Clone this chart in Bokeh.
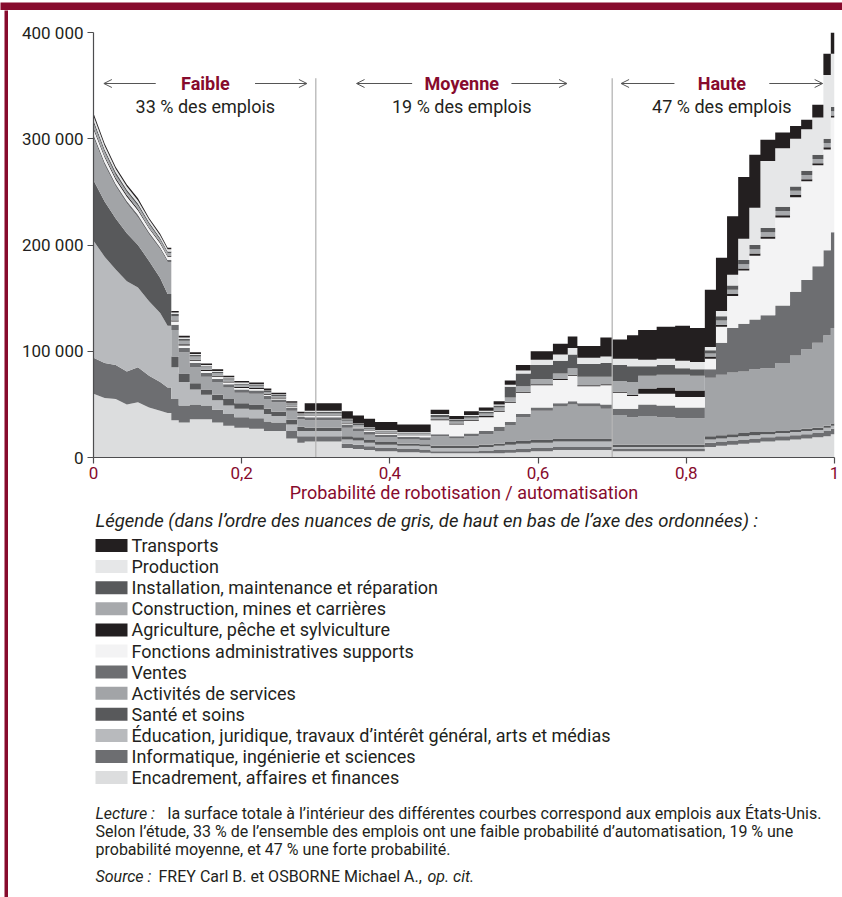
from bokeh.plotting import figure
from bokeh.layouts import column, row
from bokeh.models import ColumnDataSource, Range1d, FixedTicker, Label, Arrow, OpenHead
from bokeh.core.properties import value
from bokeh.embed import file_html
from bokeh.resources import INLINE

# ---------------- data (jobs, thousands) ----------------
proba = [0.0, 0.015, 0.03, 0.045, 0.06, 0.075, 0.09, 0.1, 0.105, 0.115,
         0.13, 0.145, 0.16, 0.175, 0.19, 0.21, 0.23, 0.24, 0.26, 0.275,
         0.285, 0.335, 0.35, 0.365, 0.38, 0.41, 0.44, 0.455, 0.48, 0.5,
         0.52, 0.54, 0.555, 0.57, 0.59, 0.62, 0.64, 0.653, 0.684, 0.7,
         0.72, 0.735, 0.76, 0.785, 0.805, 0.825, 0.84, 0.855, 0.87, 0.885,
         0.9, 0.92, 0.94, 0.955, 0.97, 0.985, 0.995, 1.0]

encadrement = [60, 56, 55, 50, 52, 47, 44, 42, 35, 33,
               36, 36, 33, 30, 28, 27, 25, 25, 18, 14,
               15, 9, 8, 7, 6, 5, 4.5, 4, 4, 4,
               4, 4, 4.5, 5, 6, 7, 7, 7, 7, 6,
               6, 6, 6, 6, 6, 10, 11, 12, 13, 14,
               15, 16, 17, 18, 19, 20, 22, 22]
informatique = [34, 33, 32, 31, 33, 30, 27, 24, 20, 16,
                14, 13, 12, 11, 10, 10, 9, 8, 7, 6,
                5, 4, 4, 3.5, 3, 3, 3, 2, 2, 2,
                2.5, 3, 3, 3, 3, 3, 3, 3, 3, 2,
                2, 2, 2, 2, 2, 4, 4, 4, 4, 4,
                4, 4, 4, 4, 4, 5, 5, 5]
education = [110, 100, 90, 85, 75, 70, 65, 58, 30, 22,
             14, 10, 9, 8, 8, 8, 7, 6, 6, 5,
             5, 4, 4, 3.5, 3, 3, 3, 3, 3, 3,
             3.5, 4, 4.5, 5, 5, 5, 5, 5, 5, 2,
             2, 2, 2, 2, 2, 3, 3, 3, 3, 3,
             3, 3, 3, 3, 3, 3, 3, 3]
sante = [57, 52, 48, 45, 40, 38, 33, 30, 10, 8,
         6, 5, 5, 6, 5, 5, 5, 4, 4.5, 4,
         3, 3, 3, 2.5, 2.5, 2, 2, 2, 2, 2,
         2, 2, 2.5, 3, 3, 3, 3, 3, 3, 2,
         2, 2, 2, 2, 2, 3, 3, 3, 3, 3,
         2, 2, 2, 2, 2, 2, 2, 2]
services = [40, 34, 30, 28, 26, 25, 27, 30, 25, 20,
            15, 12, 12, 11, 10, 10, 9, 9, 8.5, 7,
            7, 8, 6, 5, 4.5, 4, 4, 9, 7, 9,
            10, 12, 16, 22, 27, 30, 32, 30, 28, 28,
            26, 27, 26, 25, 25, 55, 57, 58, 58, 59,
            60, 64, 70, 75, 80, 85, 90, 90]
ventes = [3, 3, 2.5, 2.5, 2.5, 2, 2, 2, 5, 4,
          4, 3.5, 3, 3, 3, 3, 3, 2.5, 3, 2.5,
          3, 3, 2.5, 2.5, 2.5, 2.5, 2.5, 2, 2, 2.5,
          3, 4, 3, 3, 3, 3, 3, 3, 4, 6,
          8, 11, 11, 10, 10, 8, 30, 42, 45, 47,
          50, 54, 60, 65, 72, 80, 90, 90]
administratif = [5, 4.5, 4, 4, 4, 3.5, 3.5, 3, 3, 2.5,
                 2, 2, 2, 1.5, 1.5, 1.5, 1, 1, 1, 0.5,
                 1, 1, 1, 1, 1, 1.5, 2, 13, 11, 12,
                 13, 14, 18, 20, 21, 22, 24, 16, 18, 15,
                 12, 10, 11, 10, 10, 10, 15, 30, 50, 60,
                 72, 83, 89, 93, 95, 95, 108, 108]
agriculture = [1.5, 1.5, 1.5, 1.5, 1.5, 1, 1, 1, 1, 1,
               1, 1, 1, 1, 1, 1, 1, 1, 0.5, 0.5,
               0.5, 0.5, 0.5, 0.5, 0.5, 0.5, 0.5, 1, 1, 1,
               1, 1, 1, 1, 1, 1, 1, 1, 1, 1,
               1, 5, 6, 6, 6, 2, 2, 2, 2, 2,
               2, 2, 2, 2, 2, 2, 2, 2]
construction = [4, 3.5, 3, 3, 3, 3, 2.5, 2.5, 4, 3.5,
                3, 2.5, 2.5, 2, 2, 2, 1.5, 1.5, 1.5, 1,
                2, 2, 1.5, 1.5, 1.5, 1, 1, 2, 2, 2,
                2.5, 3, 4, 5, 5, 5, 6, 8, 7, 10,
                12, 12, 12, 15, 14, 3, 4, 4, 4, 4,
                4, 4, 4, 4, 4, 4, 4, 4]
installation = [3, 2.5, 2.5, 2, 2, 2, 1.5, 1.5, 2, 1.5,
                1.5, 1, 1, 1, 1, 1, 1, 1, 1, 0.5,
                1.5, 1.5, 1, 1, 1, 1, 1, 2, 1.5, 1.5,
                1.5, 2, 10, 12, 13, 12, 13, 12, 13, 15,
                15, 9, 9, 6, 6, 3, 4, 4, 4, 4,
                4, 4, 4, 4, 4, 4, 4, 4]
production = [4, 3.5, 3, 3, 3, 2.5, 2.5, 2, 1.5, 1.5,
              1, 1, 1, 1, 1, 0.5, 0.5, 0.5, 0.5, 0.5,
              1, 0.5, 0.5, 0.5, 0.5, 0.5, 0.5, 1, 0.5, 1,
              1, 1, 2, 3, 5, 6, 6, 6, 6, 6,
              7, 6, 6, 7, 7, 3, 5, 10, 20, 35,
              63, 55, 45, 39, 35, 60, 50, 50]
transports = [2.5, 2, 2, 2, 2, 1.5, 1.5, 1.5, 1.5, 1.5,
              1.5, 1.5, 1.5, 1.5, 1.5, 1.5, 2, 1.5, 1.5, 1.5,
              7, 7, 7.5, 8, 7.5, 7, 7, 4, 3, 3.5,
              3, 3, 4, 5, 8, 10, 11, 11, 18, 18,
              22, 28, 30, 33, 32, 54, 50, 55, 58, 50,
              20, 15, 12, 9, 12, 20, 20, 20]

# legend order: top of the stack first
legend_labels = [
    "Transports",
    "Production",
    "Installation, maintenance et réparation",
    "Construction, mines et carrières",
    "Agriculture, pêche et sylviculture",
    "Fonctions administratives supports",
    "Ventes",
    "Activités de services",
    "Santé et soins",
    "Éducation, juridique, travaux d’intérêt général, arts et médias",
    "Informatique, ingénierie et sciences",
    "Encadrement, affaires et finances",
]
series_top_down = [transports, production, installation, construction, agriculture,
                   administratif, ventes, services, sante, education, informatique,
                   encadrement]
colors_top_down = ["#231f20", "#e6e7e8", "#58595b", "#a7a9ac", "#231f20", "#f3f3f4",
                   "#6d6e71", "#a2a4a7", "#58595b", "#b8babd", "#6d6e71", "#dcddde"]

x_ticks = [0, 0.2, 0.4, 0.6, 0.8, 1]
x_tick_labels = ["0", "0,2", "0,4", "0,6", "0,8", "1"]
y_ticks = [0, 100000, 200000, 300000, 400000]
y_tick_labels = ["0", "100 000", "200 000", "300 000", "400 000"]

zones = ["Faible", "Moyenne", "Haute"]
zone_shares = ["33 % des emplois", "19 % des emplois", "47 % des emplois"]
zone_centers = [0.151, 0.497, 0.848]
thresholds = [0.3, 0.7]

RED = "#870b2d"
INK = "#231f20"
AXIS = "#4d4d4f"
FONT = "Roboto"


def stepped(vals):
    xs, ys = [], []
    n = len(proba)
    for i in range(n - 1):
        xs.append(proba[i]); ys.append(vals[i])
        if proba[i + 1] > 0.1:
            xs.append(proba[i + 1]); ys.append(vals[i])
    xs.append(proba[-1]); ys.append(vals[-1])
    return xs, ys


keys_bottom_up = []
data = {}
for k, vals in enumerate(reversed(series_top_down)):
    xs, ys = stepped(vals)
    data["x"] = xs
    key = "s%d" % k
    data[key] = [v * 1000 for v in ys]
    keys_bottom_up.append(key)
src = ColumnDataSource(data)
colors_bottom_up = list(reversed(colors_top_down))

BL, BR = 85, 8          # left / right borders shared by both panels

# ---------------- chart ----------------
p = figure(width=834, height=499, x_range=Range1d(0, 1), y_range=Range1d(0, 400000),
           output_backend="svg", toolbar_location=None,
           min_border_left=BL, min_border_right=BR, min_border_top=22, min_border_bottom=52)
p.outline_line_color = None
p.xgrid.visible = False
p.ygrid.visible = False

p.varea_stack(stackers=keys_bottom_up, x="x", fill_color=colors_bottom_up, source=src)

p.segment(x0=thresholds, y0=[0] * len(thresholds), x1=thresholds,
          y1=[357000] * len(thresholds), line_color="#b5b5b5", line_width=1.3)

for ax in (p.xaxis[0], p.yaxis[0]):
    ax.axis_line_color = AXIS
    ax.axis_line_width = 1.2
    ax.major_tick_line_color = AXIS
    ax.major_tick_line_width = 1.2
    ax.major_tick_out = 6
    ax.major_tick_in = 0
    ax.minor_tick_line_color = None
    ax.major_label_text_font = FONT
    ax.major_label_text_font_size = "17px"

p.xaxis.ticker = FixedTicker(ticks=x_ticks)
p.xaxis.major_label_overrides = dict(zip(x_ticks, x_tick_labels))
p.xaxis.major_label_text_color = RED
p.xaxis.major_label_standoff = 3
p.xaxis.axis_label = "Probabilité de robotisation / automatisation"
p.xaxis.axis_label_text_color = RED
p.xaxis.axis_label_text_font = FONT
p.xaxis.axis_label_text_font_size = "18px"
p.xaxis.axis_label_text_font_style = "normal"
p.xaxis.axis_label_standoff = 0

p.yaxis.ticker = FixedTicker(ticks=y_ticks)
p.yaxis.major_label_overrides = dict(zip(y_ticks, y_tick_labels))
p.yaxis.major_label_text_color = INK
p.yaxis.major_label_standoff = 4

# zone headers
half_gap = [0.067, 0.067, 0.064]
arrow_len = [0.07, 0.075, 0.072]
for c, name, share, g, L in zip(zone_centers, zones, zone_shares, half_gap, arrow_len):
    p.add_layout(Label(x=c, y=352000, text=name, text_align="center", text_baseline="middle",
                       text_font=FONT, text_font_size="18px", text_font_style="bold",
                       text_color=RED))
    p.add_layout(Label(x=c, y=330000, text=share, text_align="center", text_baseline="middle",
                       text_font=FONT, text_font_size="18px", text_color=INK))
    for sgn in (-1, 1):
        p.add_layout(Arrow(x_start=c + sgn * g, y_start=352000,
                           x_end=c + sgn * (g + L), y_end=352000,
                           line_color="#555555", line_width=1,
                           end=OpenHead(size=8, line_color="#555555", line_width=1)))

# ---------------- legend + notes (page-pixel coordinates) ----------------
q = figure(width=834, height=388, x_range=Range1d(8 + BL, 842 - BR), y_range=Range1d(897, 509),
           output_backend="svg", toolbar_location=None,
           min_border_left=BL, min_border_right=BR, min_border_top=0, min_border_bottom=0,
           x_axis_type=None, y_axis_type=None)
q.outline_line_color = None
q.xgrid.visible = False
q.ygrid.visible = False

q.text(x=[95], y=[520], text=["Légende (dans l’ordre des nuances de gris, de haut en bas de l’axe des ordonnées) :"],
       text_baseline="middle", text_font=value(FONT), text_font_size=value("18.5px"),
       text_font_style="italic", text_color=INK)

rows_y = [545 + i * 21.1 for i in range(len(legend_labels))]
q.rect(x=[111] * len(rows_y), y=rows_y, width=32, height=13,
       fill_color=colors_top_down, line_color=None)
q.text(x=[131] * len(rows_y), y=rows_y, text=legend_labels, text_baseline="middle",
       text_font=value(FONT), text_font_size=value("18px"), text_color=INK)

note_style = dict(text_baseline="middle", text_font=value(FONT),
                  text_font_size=value("16px"), text_color=INK)
q.text(x=[95], y=[813], text=["Lecture :"], text_font_style="italic", **note_style)
q.text(x=[167], y=[813],
       text=["la surface totale à l’intérieur des différentes courbes correspond aux emplois aux États-Unis."],
       **note_style)
q.text(x=[95, 95], y=[831, 849],
       text=["Selon l’étude, 33 % de l’ensemble des emplois ont une faible probabilité d’automatisation, 19 % une",
             "probabilité moyenne, et 47 % une forte probabilité."], **note_style)
q.text(x=[95], y=[876], text=["Source :"], text_font_style="italic", **note_style)
q.text(x=[158], y=[876], text=["FREY Carl B. et OSBORNE Michael A.,"], **note_style)
q.text(x=[427], y=[876], text=["op. cit."], text_font_style="italic", **note_style)

# ---------------- frame decorations ----------------
def block(w, h, color):
    f = figure(width=w, height=h, output_backend="svg", toolbar_location=None,
               min_border=0, x_axis_type=None, y_axis_type=None)
    f.outline_line_color = None
    f.background_fill_color = color
    f.border_fill_color = color
    return f

top_band = block(842, 10, RED)
gap = block(4, 887, "#ffffff")
left_bar = block(4, 887, RED)

layout = column(top_band, row(gap, left_bar, column(p, q)))

open("out.html", "w").write(file_html(layout, INLINE))
